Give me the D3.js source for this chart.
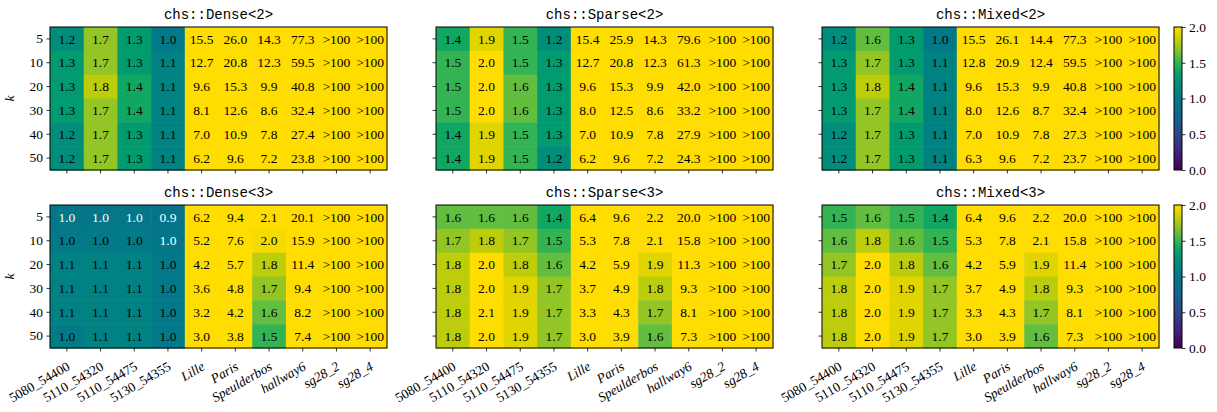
<!DOCTYPE html>
<html>
<head>
<meta charset="utf-8">
<script src="https://cdn.jsdelivr.net/npm/d3@7"></script>
<style>
  html, body { margin: 0; padding: 0; background: #fff; }
  svg { display: block; }
  .tick text { font-family: "Liberation Serif", "Times New Roman", serif; font-size: 13.5px; fill: #000; }
  .tick line { stroke: #000; stroke-width: 0.8; }
  .domain { display: none; }
</style>
</head>
<body>
<svg id="chart" width="1217" height="412"></svg>
<script>
const I = Infinity; // displayed as ">100"
const categories = ["5080_54400","5110_54320","5110_54475","5130_54355","Lille","Paris","Speulderbos","hallway6","sg28_2","sg28_4"];
const kValues = [5, 10, 20, 30, 40, 50];
const titles = ["chs::Dense<2>","chs::Sparse<2>","chs::Mixed<2>","chs::Dense<3>","chs::Sparse<3>","chs::Mixed<3>"];
const colorbarTicks = [0.0, 0.5, 1.0, 1.5, 2.0];

const dense2 = [
  [1.2,1.7,1.3,1.0,15.5,26.0,14.3,77.3,I,I],
  [1.3,1.7,1.3,1.1,12.7,20.8,12.3,59.5,I,I],
  [1.3,1.8,1.4,1.1,9.6,15.3,9.9,40.8,I,I],
  [1.3,1.7,1.4,1.1,8.1,12.6,8.6,32.4,I,I],
  [1.2,1.7,1.3,1.1,7.0,10.9,7.8,27.4,I,I],
  [1.2,1.7,1.3,1.1,6.2,9.6,7.2,23.8,I,I]];
const sparse2 = [
  [1.4,1.9,1.5,1.2,15.4,25.9,14.3,79.6,I,I],
  [1.5,2.0,1.5,1.3,12.7,20.8,12.3,61.3,I,I],
  [1.5,2.0,1.6,1.3,9.6,15.3,9.9,42.0,I,I],
  [1.5,2.0,1.6,1.3,8.0,12.5,8.6,33.2,I,I],
  [1.4,1.9,1.5,1.3,7.0,10.9,7.8,27.9,I,I],
  [1.4,1.9,1.5,1.2,6.2,9.6,7.2,24.3,I,I]];
const mixed2 = [
  [1.2,1.6,1.3,1.0,15.5,26.1,14.4,77.3,I,I],
  [1.3,1.7,1.3,1.1,12.8,20.9,12.4,59.5,I,I],
  [1.3,1.8,1.4,1.1,9.6,15.3,9.9,40.8,I,I],
  [1.3,1.7,1.4,1.1,8.0,12.6,8.7,32.4,I,I],
  [1.2,1.7,1.3,1.1,7.0,10.9,7.8,27.3,I,I],
  [1.2,1.7,1.3,1.1,6.3,9.6,7.2,23.7,I,I]];
const dense3 = [
  [0.98,0.98,0.98,0.94,6.2,9.4,2.1,20.1,I,I],
  [1.02,1.02,1.02,0.99,5.2,7.6,1.97,15.9,I,I],
  [1.1,1.1,1.1,1.0,4.2,5.7,1.8,11.4,I,I],
  [1.1,1.1,1.1,1.0,3.6,4.8,1.7,9.4,I,I],
  [1.1,1.1,1.1,1.0,3.2,4.2,1.6,8.2,I,I],
  [1.04,1.1,1.1,1.0,3.0,3.8,1.5,7.4,I,I]];
const sparse3 = [
  [1.6,1.6,1.6,1.4,6.4,9.6,2.2,20.0,I,I],
  [1.7,1.8,1.7,1.5,5.3,7.8,2.1,15.8,I,I],
  [1.8,2.0,1.8,1.6,4.2,5.9,1.9,11.3,I,I],
  [1.8,2.0,1.9,1.7,3.7,4.9,1.8,9.3,I,I],
  [1.8,2.1,1.9,1.7,3.3,4.3,1.7,8.1,I,I],
  [1.8,2.0,1.9,1.7,3.0,3.9,1.6,7.3,I,I]];
const mixed3 = [
  [1.5,1.6,1.5,1.4,6.4,9.6,2.2,20.0,I,I],
  [1.6,1.8,1.6,1.5,5.3,7.8,2.1,15.8,I,I],
  [1.7,2.0,1.8,1.6,4.2,5.9,1.9,11.4,I,I],
  [1.8,2.0,1.9,1.7,3.7,4.9,1.8,9.3,I,I],
  [1.8,2.0,1.9,1.7,3.3,4.3,1.7,8.1,I,I],
  [1.8,2.0,1.9,1.7,3.0,3.9,1.6,7.3,I,I]];

const panelsData = [dense2, sparse2, mixed2, dense3, sparse3, mixed3];

// colour ramp (viridis-like, as rendered in the reference)
const rampStops = ["#410055","#461978","#373787","#23558c","#0f698c","#00778a","#008c7a","#00a864","#64be46","#c3cd00","#ffdd00"];
const ramp = d3.interpolateRgbBasis(rampStops);

const svg = d3.select("#chart");
const colLefts = [50, 436, 822];
const panelW = 337;
const rowTops = [27, 205];
const panelH = 143;

const color = d3.scaleSequential(ramp).domain([0, 2]).clamp(true);
const fmt = v => (v === Infinity ? ">100" : d3.format(".1f")(v));
const serif = '"Liberation Serif", "Times New Roman", serif';

panelsData.forEach((data, pi) => {
  const r = Math.floor(pi / 3), c = pi % 3;
  const x0 = colLefts[c], y0 = rowTops[r];
  const g = svg.append("g").attr("transform", `translate(${x0},${y0})`);
  const x = d3.scaleBand().domain(categories).range([0, panelW]).padding(0);
  const y = d3.scaleBand().domain(kValues).range([0, panelH]).padding(0);

  const cells = [];
  data.forEach((row, ri) => row.forEach((v, ci) => cells.push({k: kValues[ri], cat: categories[ci], v})));

  g.selectAll("rect.cell").data(cells).join("rect")
    .attr("class", "cell")
    .attr("x", d => x(d.cat)).attr("y", d => y(d.k))
    .attr("width", x.bandwidth() + 0.5).attr("height", y.bandwidth() + 0.5)
    .attr("fill", d => color(d.v));

  g.selectAll("text.val").data(cells).join("text")
    .attr("class", "val")
    .attr("x", d => x(d.cat) + x.bandwidth() / 2)
    .attr("y", d => y(d.k) + y.bandwidth() / 2)
    .attr("dy", "0.35em")
    .attr("text-anchor", "middle")
    .attr("font-family", serif).attr("font-size", 13.5)
    .attr("fill", d => d.v < 1.0 ? "#fff" : "#000")
    .text(d => fmt(d.v));

  g.append("rect").attr("x", 0).attr("y", 0).attr("width", panelW).attr("height", panelH)
    .attr("fill", "none").attr("stroke", "#000").attr("stroke-width", 1);

  // y axis
  const ya = g.append("g").call(d3.axisLeft(y).tickSize(3.5).tickPadding(3.5));
  if (c !== 0) ya.selectAll("text").remove();

  // x axis
  const xa = g.append("g").attr("transform", `translate(0,${panelH})`)
    .call(d3.axisBottom(x).tickSize(3.5).tickPadding(3.5));
  if (r === 0) {
    xa.selectAll("text").remove();
  } else {
    xa.selectAll("text")
      .attr("text-anchor", "end")
      .attr("dy", null).attr("y", null)
      .attr("transform", "translate(4,21) rotate(-30)")
      .style("font-style", d => /^[0-9]/.test(d) ? "normal" : "italic");
  }

  // title
  g.append("text").attr("x", panelW / 2).attr("y", -8)
    .attr("text-anchor", "middle")
    .attr("font-family", '"Liberation Mono", "DejaVu Sans Mono", monospace')
    .attr("font-size", 14).attr("fill", "#000")
    .text(titles[pi]);

  if (c === 0) {
    g.append("text")
      .attr("transform", `translate(${-36},${panelH / 2}) rotate(-90)`)
      .attr("text-anchor", "middle")
      .attr("font-family", serif).attr("font-size", 13.5).attr("font-style", "italic")
      .text("k");
  }
});

// colorbars
const defs = svg.append("defs");
const grad = defs.append("linearGradient").attr("id", "vir").attr("x1", 0).attr("y1", 1).attr("x2", 0).attr("y2", 0);
d3.range(0, 1.0001, 0.05).forEach(t => grad.append("stop").attr("offset", t).attr("stop-color", ramp(t)));

rowTops.forEach(top => {
  const cb = svg.append("g").attr("transform", `translate(1174,${top})`);
  const cs = d3.scaleLinear().domain([0, 2]).range([panelH, 0]);
  cb.append("rect").attr("width", 8).attr("height", panelH).attr("fill", "url(#vir)");
  cb.append("rect").attr("width", 8).attr("height", panelH).attr("fill", "none").attr("stroke", "#000").attr("stroke-width", 1);
  cb.append("g").attr("transform", "translate(8,0)")
    .call(d3.axisRight(cs).tickValues(colorbarTicks).tickFormat(d3.format(".1f")).tickSize(3.5).tickPadding(3.5));
});
</script>
</body>
</html>
